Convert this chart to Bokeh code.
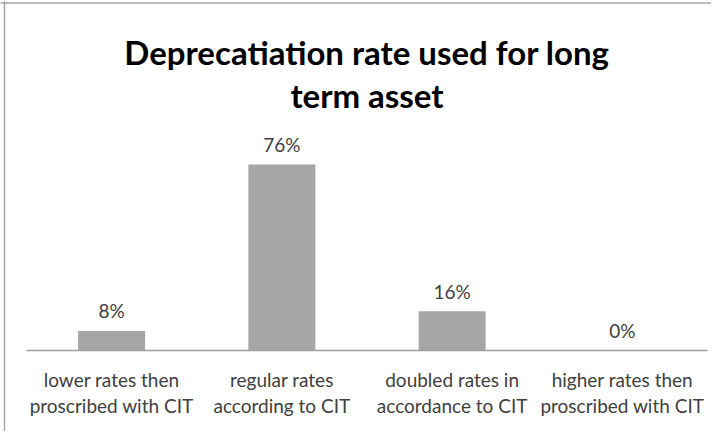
from bokeh.plotting import figure
from bokeh.models import Range1d, Label, ColumnDataSource, LinearAxis, FixedTicker, Span
from bokeh.core.properties import value
from bokeh.embed import file_html
from bokeh.resources import INLINE

title_lines = ["Deprecatiation rate used for long", "term asset"]
categories = [
    "lower rates then\nproscribed with CIT",
    "regular rates\naccording to CIT",
    "doubled rates in\naccordance to CIT",
    "higher rates then\nproscribed with CIT",
]
shares = [8, 76, 16, 0]
share_labels = ["8%", "76%", "16%", "0%"]

FONT = "Lato"

positions = [i + 0.5 for i in range(len(categories))]
src = ColumnDataSource(dict(x=positions, val=shares, lab=share_labels))

p = figure(
    x_range=Range1d(-0.1527, 4.0235),
    y_range=Range1d(-33.1, 143.0),
    width=711, height=431,
    output_backend="svg", toolbar_location=None,
    min_border=0, x_axis_location=None, y_axis_location=None,
)
p.outline_line_color = None
p.xgrid.grid_line_color = None
p.ygrid.grid_line_color = None
p.background_fill_color = "white"
p.border_fill_color = "white"

# chart-area border (left and top edges)
p.add_layout(Span(location=-0.1292, dimension="height", line_color="#a6a6a6", line_width=1.5))
p.add_layout(Span(location=142.0, dimension="width", line_color="#a6a6a6", line_width=1.5))

p.vbar(x="x", top="val", width=0.3935, source=src, fill_color="#a6a6a6", line_color=None)
p.text(x="x", y="val", text="lab", source=src, y_offset=-20,
       text_align="center", text_baseline="middle",
       text_font=value(FONT), text_font_size="19px", text_color="#404040")

ax = LinearAxis(fixed_location=0, ticker=FixedTicker(ticks=positions),
                major_label_overrides={pos: c for pos, c in zip(positions, categories)})
ax.bounds = (0, 4)
ax.axis_line_color = "#a0a0a0"
ax.axis_line_width = 1.5
ax.major_tick_line_color = None
ax.minor_tick_line_color = None
ax.major_tick_out = 0
ax.major_tick_in = 0
ax.major_label_standoff = 18
ax.major_label_text_font = FONT
ax.major_label_text_font_size = "19px"
ax.major_label_text_color = "#404040"
ax.major_label_text_line_height = 1.12
p.add_layout(ax, "below")

for txt, yv in zip(title_lines, [121.9, 104.2]):
    p.add_layout(Label(x=2.0, y=yv, text=txt, text_align="center", text_baseline="alphabetic",
                       text_font=FONT, text_font_style="bold", text_font_size="33px",
                       text_color="black"))

open("out.html", "w").write(file_html(p, INLINE))
